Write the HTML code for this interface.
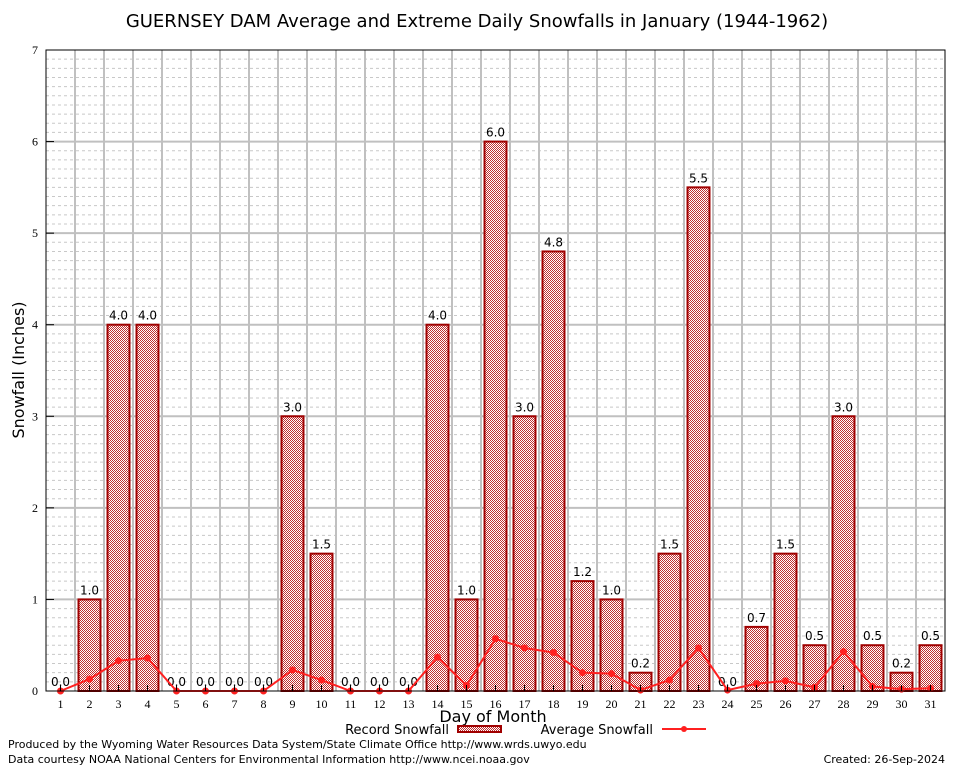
<!DOCTYPE html>
<html><head><meta charset="utf-8"><style>
body{margin:0;background:#fff;}
svg{display:block;font-family:"DejaVu Sans","Liberation Sans",sans-serif;}
</style></head><body>
<svg id="c" width="954" height="768" xmlns="http://www.w3.org/2000/svg">
<defs>
<pattern id="hatch" width="2" height="2" patternUnits="userSpaceOnUse">
<rect width="2" height="2" fill="#fff"/><rect width="1" height="1" fill="#c03030"/><rect x="1" y="1" width="1" height="1" fill="#c03030"/>
</pattern>
</defs>
<text x="477" y="27" font-size="18" text-anchor="middle">GUERNSEY DAM Average and Extreme Daily Snowfalls in January (1944-1962)</text>
<g id="grid"></g>
<g id="bars"></g>
<g id="avg"></g>
<g id="axes"></g>
<text transform="translate(24,370) rotate(-90)" font-size="16" text-anchor="middle">Snowfall (Inches)</text>
<text x="493" y="722" font-size="16" text-anchor="middle">Day of Month</text>
<g>
<text x="449" y="734" font-size="13" text-anchor="end">Record Snowfall</text>
<rect x="458" y="726" width="43" height="6" fill="url(#hatch)" stroke="#a00000" stroke-width="2"/>
<text x="653" y="734" font-size="13" text-anchor="end">Average Snowfall</text>
<line x1="662" y1="729" x2="706" y2="729" stroke="#ff2020" stroke-width="2"/>
<circle cx="684" cy="729" r="3" fill="#ff2020"/>
</g>
<text x="8" y="748" font-size="11">Produced by the Wyoming Water Resources Data System/State Climate Office http://www.wrds.uwyo.edu</text>
<text x="8" y="763" font-size="11">Data courtesy NOAA National Centers for Environmental Information http://www.ncei.noaa.gov</text>
<text x="945" y="763" font-size="11" text-anchor="end">Created: 26-Sep-2024</text>
</svg>
<script>
const days = [1,2,3,4,5,6,7,8,9,10,11,12,13,14,15,16,17,18,19,20,21,22,23,24,25,26,27,28,29,30,31];
const recordValues = [0,1.0,4.0,4.0,0,0,0,0,3.0,1.5,0,0,0,4.0,1.0,6.0,3.0,4.8,1.2,1.0,0.2,1.5,5.5,0,0.7,1.5,0.5,3.0,0.5,0.2,0.5];
const recordLabels = ["0.0","1.0","4.0","4.0","0.0","0.0","0.0","0.0","3.0","1.5","0.0","0.0","0.0","4.0","1.0","6.0","3.0","4.8","1.2","1.0","0.2","1.5","5.5","0.0","0.7","1.5","0.5","3.0","0.5","0.2","0.5"];
const averageValues = [0,0.13,0.33,0.36,0,0,0,0,0.23,0.12,0,0,0,0.37,0.06,0.57,0.47,0.42,0.2,0.19,0.01,0.12,0.47,0.01,0.08,0.11,0.04,0.43,0.05,0.02,0.03];
const yTicks = [0,1,2,3,4,5,6,7];

const NS="http://www.w3.org/2000/svg";
const L=46,R=945,T=50,B=691,YMAX=7;
const step=(R-L)/days.length;
const x=d=>L+(d-0.5)*step;
const y=v=>B-(v/YMAX)*(B-T);
function mk(tag,attrs,parent,txt){const e=document.createElementNS(NS,tag);for(const k in attrs)e.setAttribute(k,attrs[k]);if(txt!==undefined)e.textContent=txt;parent.appendChild(e);return e;}
const grid=document.getElementById('grid'),bars=document.getElementById('bars'),avg=document.getElementById('avg'),axes=document.getElementById('axes');
for(let i=1;i<YMAX*10;i++){if(i%10===0)continue;const gy=y(i/10);const e=mk('line',{x1:L,x2:R,y1:gy,y2:gy,stroke:'#c8c8c8','stroke-dasharray':'3,3','stroke-width':1},grid);

}
for(let i=1;i<days.length;i++){const gx=L+i*step;const e=mk('line',{x1:gx,x2:gx,y1:T,y2:B,stroke:'#c0c0c0','stroke-width':2},grid);

}
yTicks.forEach(t=>{const gy=y(t);
if(t>0&&t<YMAX){const e=mk('line',{x1:L,x2:R,y1:gy,y2:gy,stroke:'#c0c0c0','stroke-width':2},grid);

}
const tk=mk('line',{x1:L,x2:L+8,y1:gy,y2:gy,stroke:'#000'},axes);


const lb=mk('text',{x:L-8,y:gy+4,'font-size':12,'text-anchor':'end','font-family':'Liberation Serif, serif'},axes,String(t));

});
days.forEach((d,i)=>{const v=recordValues[i];const cx=x(d);
if(v>0){const r=mk('rect',{x:cx-11,y:y(v),width:22,height:B-y(v),fill:'url(#hatch)',stroke:'#a00000','stroke-width':2},bars);

}
const t=mk('text',{x:cx,y:y(v)-5,'font-size':12,'text-anchor':'middle'},bars,recordLabels[i]);


const xl=mk('text',{x:cx,y:B+17,'font-size':12,'text-anchor':'middle','font-family':'Liberation Serif, serif'},axes,String(d));


const xt=mk('line',{x1:cx,x2:cx,y1:B,y2:B-6,stroke:'#000'},axes);

});
const pts=days.map((d,i)=>x(d)+','+y(averageValues[i])).join(' ');
const pl=mk('polyline',{points:pts,fill:'none',stroke:'#ff2020','stroke-width':2},avg);


days.forEach((d,i)=>{const c=mk('circle',{cx:x(d),cy:y(averageValues[i]),r:3.5,fill:'#ff2020'},avg);

});
const fr=mk('rect',{x:L,y:T,width:R-L,height:B-T,fill:'none',stroke:'#000','stroke-width':1},axes);


</script>
</body></html>
